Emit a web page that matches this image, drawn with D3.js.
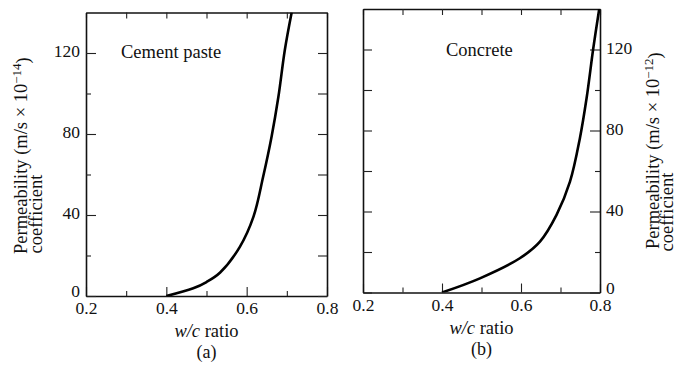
<!DOCTYPE html>
<html>
<head>
<meta charset="utf-8">
<script src="https://cdn.jsdelivr.net/npm/d3@7"></script>
<style>
  body { margin: 0; background: #fff; }
  svg text { font-family: "Liberation Serif", "Times New Roman", serif; fill: #111; }
</style>
</head>
<body>
<div id="chart"></div>
<script>
// values
const wcPaste = [0.40, 0.467, 0.50, 0.534, 0.583, 0.617, 0.641, 0.662, 0.679, 0.695, 0.712];
const kPaste = [0, 3.8, 6.9, 11.6, 24.3, 39.2, 58.9, 78.7, 98.4, 121.5, 140];
const wcConcrete = [0.40, 0.496, 0.597, 0.648, 0.690, 0.724, 0.749, 0.766, 0.783, 0.798];
const kConcrete = [0, 7.0, 16.9, 25.1, 38.3, 54.7, 76.1, 95.9, 120.6, 140];
const xMajor = [0.2, 0.4, 0.6, 0.8];
const xMinor = [0.3, 0.5, 0.7];
const yMajor = [0, 40, 80, 120];
const yMinor = [20, 60, 100];

const W = 677, H = 365;
const svg = d3.select("#chart").append("svg")
    .attr("width", W).attr("height", H);

const fmtX = d3.format(".1f");
const serif = '"Liberation Serif", "Times New Roman", serif';

function panel(opts) {
    const x = d3.scaleLinear().domain([0.2, 0.8]).range([opts.left, opts.right]);
    const y = d3.scaleLinear().domain([0, 140]).range([opts.bottom, opts.top]);
    const g = svg.append("g");

    // frame + ticks (all ticks point inward)
    g.append("g").attr("class", "xlab").attr("transform", `translate(0,${opts.bottom})`)
        .call(d3.axisBottom(x).tickValues(xMajor).tickFormat(fmtX).tickSize(-9).tickSizeOuter(0).tickPadding(6));
    g.append("g").attr("transform", `translate(0,${opts.bottom})`)
        .call(d3.axisBottom(x).tickValues(xMinor).tickFormat("").tickSize(-5))
        .select(".domain").remove();
    g.append("g").attr("transform", `translate(0,${opts.top})`)
        .call(d3.axisTop(x).tickValues(xMajor.concat(xMinor)).tickFormat("").tickSize(-6).tickSizeOuter(0));

    const isLeft = opts.labelSide === "left";
    const labX = isLeft ? opts.left : opts.right;
    const otherX = isLeft ? opts.right : opts.left;

    g.append("g").attr("class", "ylab").attr("transform", `translate(${labX},0)`)
        .call((isLeft ? d3.axisLeft(y) : d3.axisRight(y))
            .tickValues(yMajor).tickSize(-10).tickSizeOuter(0).tickPadding(6));
    g.append("g").attr("transform", `translate(${labX},0)`)
        .call((isLeft ? d3.axisLeft(y) : d3.axisRight(y))
            .tickValues(yMinor).tickFormat("").tickSize(-5))
        .select(".domain").remove();
    g.append("g").attr("transform", `translate(${otherX},0)`)
        .call((isLeft ? d3.axisRight(y) : d3.axisLeft(y))
            .tickValues(yMajor.concat(yMinor)).tickFormat("").tickSize(-9).tickSizeOuter(0));

    g.selectAll(".domain").attr("stroke", "#111").attr("stroke-width", 1.6);
    g.selectAll(".tick line").attr("stroke", "#222").attr("stroke-width", 1.1);
    g.selectAll(".tick text").style("font-size", "17.5px").style("font-family", serif).attr("fill", "#111");
    g.selectAll(".ylab .tick text").attr("dy", d => d === 0 ? "0.05em" : "0.22em");

    // curve
    const clipId = "clip-" + opts.name;
    svg.append("clipPath").attr("id", clipId).append("rect")
        .attr("x", opts.left).attr("y", opts.top)
        .attr("width", opts.right - opts.left).attr("height", opts.bottom - opts.top);
    const line = d3.line().x(d => x(d[0])).y(d => y(d[1])).curve(d3.curveCatmullRom.alpha(0.5));
    g.append("path")
        .datum(d3.zip(opts.xs, opts.ys))
        .attr("clip-path", `url(#${clipId})`)
        .attr("fill", "none").attr("stroke", "#000").attr("stroke-width", 2.6)
        .attr("d", line);

    // inner caption
    g.append("text").attr("x", opts.capX).attr("y", opts.capY)
        .style("font-size", "18.5px").text(opts.caption);

    // x axis title
    const mid = (opts.left + opts.right) / 2;
    const xt = g.append("text").attr("x", mid).attr("y", opts.bottom + 41)
        .attr("text-anchor", "middle").style("font-size", "18.5px");
    xt.append("tspan").style("font-style", "italic").text("w/c");
    xt.append("tspan").text(" ratio");

    g.append("text").attr("x", mid).attr("y", opts.bottom + 62)
        .attr("text-anchor", "middle").style("font-size", "18px").text(opts.tag);

    // y axis title (two rotated lines)
    const t1 = g.append("text")
        .attr("transform", `translate(${opts.yt1},${opts.ytBottom}) rotate(-90)`)
        .style("font-size", "18.5px");
    t1.append("tspan").text("Permeability (m/s \u00d7 10");
    t1.append("tspan").attr("dy", "-0.45em").style("font-size", "13px").text(opts.exp);
    t1.append("tspan").attr("dy", "0.45em").text(")");
    g.append("text")
        .attr("transform", `translate(${opts.yt2},${opts.ytMid2}) rotate(-90)`)
        .attr("text-anchor", "middle")
        .style("font-size", "18.5px").text("coefficient");
}

panel({
    name: "a", left: 86, right: 327, top: 12.5, bottom: 296,
    labelSide: "left", xs: wcPaste, ys: kPaste,
    caption: "Cement paste", capX: 121, capY: 58, tag: "(a)",
    exp: "\u221214", yt1: 27, yt2: 42, ytBottom: 254, ytMid2: 214
});

panel({
    name: "b", left: 363, right: 600, top: 9, bottom: 292.5,
    labelSide: "right", xs: wcConcrete, ys: kConcrete,
    caption: "Concrete", capX: 446, capY: 56, tag: "(b)",
    exp: "\u221212", yt1: 659, yt2: 673, ytBottom: 249, ytMid2: 212
});
</script>
</body>
</html>
